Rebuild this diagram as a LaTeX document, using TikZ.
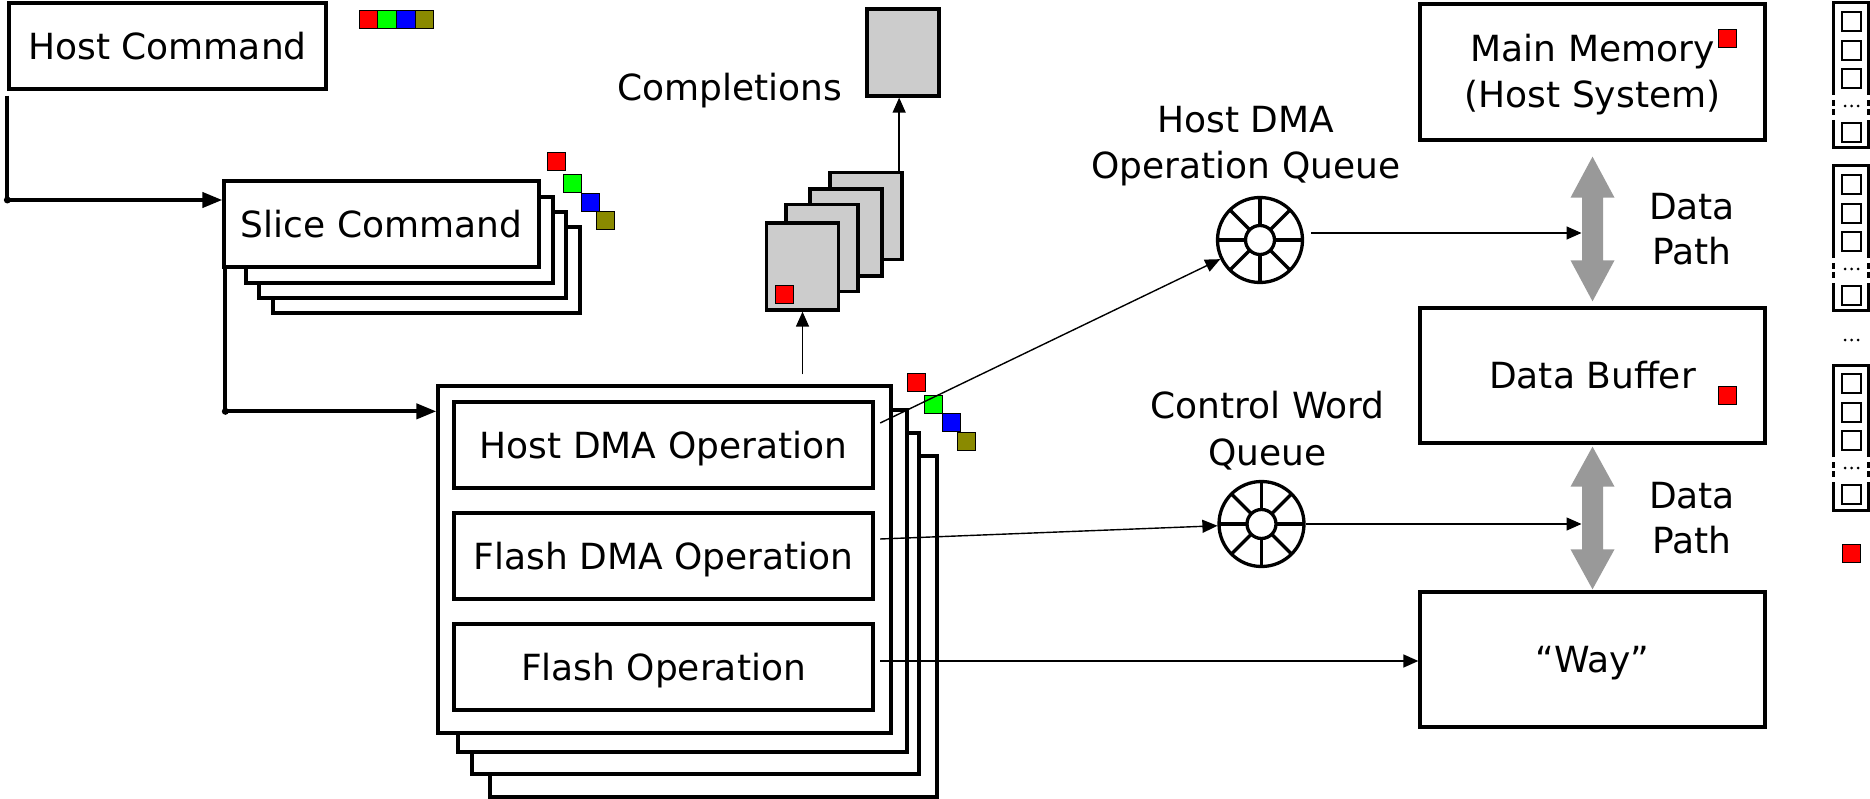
\documentclass[tikz,border=0pt]{standalone}
\usepackage{fontspec}
\setmainfont{DejaVu Sans}
\usetikzlibrary{arrows.meta,calc}
\definecolor{chipred}{HTML}{FF0000}
\definecolor{chipgreen}{HTML}{00FF00}
\definecolor{chipblue}{HTML}{0000FF}
\definecolor{chipolive}{HTML}{8A8A00}
\definecolor{cardgray}{HTML}{CCCCCC}
\definecolor{pathgray}{HTML}{999999}
\tikzset{
  txt/.style={font=\fontsize{36}{46}\selectfont, inner sep=0pt},
  box/.style={draw, line width=3.3pt, fill=white, inner sep=0pt,
    font=\fontsize{36}{46}\selectfont, text height=26.2pt, text depth=0pt},
  card/.style={draw, line width=3.3pt, fill=cardgray, inner sep=0pt,
    minimum width=72pt, minimum height=87pt},
  chip/.style={draw, line width=1pt, minimum width=18pt, minimum height=18pt, inner sep=0pt},
  conn/.style={line width=1.4pt, -{Triangle[length=15pt,width=13pt]}},
  thickconn/.style={line width=4pt, -{Triangle[length=20pt,width=15pt]}},
  queue/.style={draw, circle, line width=3.3pt, minimum size=85pt, inner sep=0pt},
}
% double-headed grey data path between two tip points
\newcommand\datapath[3]{%
  \fill[pathgray] (#1) -- ++(22,#3) -- ++(-11.5,0) -- ($(#2)+(10.5,-#3)$) -- ++(11.5,0)
    -- (#2) -- ++(-22,-#3) -- ++(11.5,0) -- ($(#1)+(-10.5,#3)$) -- ++(-11.5,0) -- cycle;}
% circular queue with an inner ring and eight slots
\newcommand\ringslots[1]{%
  \draw[line width=3.3pt] (#1) circle[radius=14.5pt];
  \foreach \a in {0,45,...,315}
    \draw[line width=3.3pt] ($(#1)+(\a:14.5)$) -- ($(#1)+(\a:42.5)$);}
\begin{document}
\begin{tikzpicture}[x=1pt,y=-1pt]
\useasboundingbox (0,0) rectangle (1870,799);

% ---------- host command ----------
\node[box, minimum width=317pt, minimum height=86pt] (hc) at (167.5,46) {Host Command};
\node[chip, minimum width=18.75pt, fill=chipred]   (hs1) at (368.4,20) {};
\node[chip, minimum width=18.75pt, fill=chipgreen] (hs2) at (387.1,20) {};
\node[chip, minimum width=18.75pt, fill=chipblue]  (hs3) at (405.9,20) {};
\node[chip, minimum width=18.75pt, fill=chipolive] (hs4) at (424.6,20) {};

% ---------- slice commands ----------
\node[box, minimum width=307pt, minimum height=86pt] (slice4) at (426.5,270) {};
\node[box, minimum width=307pt, minimum height=86pt] (slice3) at (412.5,255) {};
\node[box, minimum width=307pt, minimum height=86pt] (slice2) at (399.5,240) {};
\node[box, minimum width=315pt, minimum height=86pt] (slice) at (381.5,224) {Slice Command};
\node[chip, fill=chipred]   (ss1) at (556,162) {};
\node[chip, fill=chipgreen] (ss2) at (572,183.5) {};
\node[chip, fill=chipblue]  (ss3) at (590.5,202.5) {};
\node[chip, fill=chipolive] (ss4) at (605.5,221) {};

% ---------- operation stack ----------
\node[box, minimum width=447pt, minimum height=341pt] (op4) at (713.5,626.5) {};
\node[box, minimum width=447pt, minimum height=341pt] (op3) at (695.5,603.5) {};
\node[box, minimum width=449pt, minimum height=342pt] (op2) at (682.5,581) {};
\node[box, minimum width=453pt, minimum height=347pt] (opfront) at (664.5,559.5) {};
\node[box, minimum width=419pt, minimum height=86pt] (hdma) at (663.5,445) {Host DMA Operation};
\node[box, minimum width=419pt, minimum height=86pt] (fdma) at (663.5,556) {Flash DMA Operation};
\node[box, minimum width=419pt, minimum height=86pt] (fop)  at (663.5,667) {Flash Operation};
\node[chip, fill=chipred]   (os1) at (916.5,382.5) {};
\node[chip, fill=chipgreen] (os2) at (933,404) {};
\node[chip, fill=chipblue]  (os3) at (951.5,422.5) {};
\node[chip, fill=chipolive] (os4) at (966.5,441.5) {};

% ---------- completions ----------
\node[card] (c4) at (866,216) {};
\node[card] (c3) at (846,232.5) {};
\node[card] (c2) at (822,248) {};
\node[card] (c1) at (802.5,266.5) {};
\node[chip, fill=chipred] (cs) at (784.5,295) {};
\node[card] (comp) at (903,52.5) {};
\node[txt, anchor=base] (complbl) at (729.5,101) {Completions};

% ---------- queues ----------
\node[queue] (hq) at (1260,240) {};
\ringslots{hq}
\node[txt, anchor=base] (hqlbl1) at (1246,133) {Host DMA};
\node[txt, anchor=base] (hqlbl2) at (1246,179) {Operation Queue};
\node[queue] (cq) at (1261.5,524) {};
\ringslots{cq}
\node[txt, anchor=base] (cqlbl1) at (1267.5,418) {Control Word};
\node[txt, anchor=base] (cqlbl2) at (1267.5,465) {Queue};

% ---------- memory side ----------
\node[box, minimum width=345pt, minimum height=136pt] (mm) at (1592.5,72) {};
\node[txt, anchor=base] (mmlbl1) at (1592.5,62) {Main Memory};
\node[txt, anchor=base] (mmlbl2) at (1592.5,108) {(Host System)};
\node[chip, fill=chipred] (ms) at (1727.5,39) {};
\node[box, minimum width=345pt, minimum height=135pt] (db) at (1592.5,375.5) {Data Buffer};
\node[chip, fill=chipred] (ds) at (1727.5,395) {};
\node[box, minimum width=345pt, minimum height=135pt] (way) at (1592.5,659.5) {“Way”};

\coordinate (dp1t) at ($(mm.south)+(0,15)$);
\coordinate (dp1b) at ($(db.north)+(0,-5)$);
\datapath{dp1t}{dp1b}{41}
\coordinate (dp2t) at ($(db.south)+(0,2)$);
\coordinate (dp2b) at ($(way.north)+(0,-1)$);
\datapath{dp2t}{dp2b}{40}
\node[txt, anchor=base] (dpa1) at (1692,220) {Data};
\node[txt, anchor=base] (dpa2) at (1692,265) {Path};
\node[txt, anchor=base] (dpb1) at (1692,508) {Data};
\node[txt, anchor=base] (dpb2) at (1692,553) {Path};

% ---------- buffer slot columns ----------
\foreach \T in {3,166,365} {
  \draw[line width=3pt] (1833,\T+92) -- (1833,\T) -- (1868,\T) -- (1868,\T+92);
  \draw[line width=3pt] (1833,\T+117) -- (1833,\T+145) -- (1868,\T+145) -- (1868,\T+117);
  \foreach \d in {97,106}
    \draw[line width=3pt] (1833,\T+\d) -- (1833,\T+\d+6) (1868,\T+\d) -- (1868,\T+\d+6);
  \foreach \o in {9,38,66,120}
    \draw[line width=1.5pt] (1842,\T+\o) rectangle ++(19,19);
  \foreach \xx in {1845,1851.5,1858}
    \fill (\xx,\T+103) circle[radius=1.5pt];
}
\foreach \xx in {1845,1851.5,1858}
  \fill (\xx,340) circle[radius=1.5pt];
\node[chip, fill=chipred] (ls) at (1851.5,553.5) {};

% ---------- connectors ----------
\coordinate (hcout) at ([yshift=-5pt]hc.south west);
\coordinate (slicein) at ([yshift=24pt]slice.west);
\draw[thickconn] (hcout) |- (slicein);
\fill (hcout |- slicein) circle[radius=3.5pt];

\coordinate (sliceout) at ([xshift=3pt]slice.south west);
\coordinate (opin) at ([yshift=-27pt]opfront.north west);
\draw[thickconn] (sliceout) |- (opin);
\fill (sliceout |- opin) circle[radius=3.5pt];

\coordinate (opup) at ([yshift=10pt]opfront.north -| c1.south);
\draw[conn] (opup) -- (c1.south);
\coordinate (cardsup) at ([xshift=-4.5pt]c4.north east);
\draw[conn] (cardsup) -- (cardsup |- comp.south);

\coordinate (hdmaout) at ([xshift=5.5pt,yshift=22pt]hdma.east);
\coordinate (fdmaout) at ([xshift=5.5pt,yshift=17pt]fdma.east);
\coordinate (fopout)  at ([xshift=5.5pt,yshift=6pt]fop.east);
\draw[conn] (hdmaout) -- (hq);
\draw[conn] (fdmaout) -- (cq);
\draw[conn] (fopout) -- (fopout -| way.west);

\coordinate (hqout) at ([xshift=7pt,yshift=7pt]hq.east);
\coordinate (dp1hit) at (hqout -| dp1t);
\draw[conn] (hqout) -- ([xshift=-11pt]dp1hit);
\coordinate (dp2hit) at (cq.east -| dp2t);
\draw[conn] (cq.east) -- ([xshift=-11pt]dp2hit);
\end{tikzpicture}
\end{document}
